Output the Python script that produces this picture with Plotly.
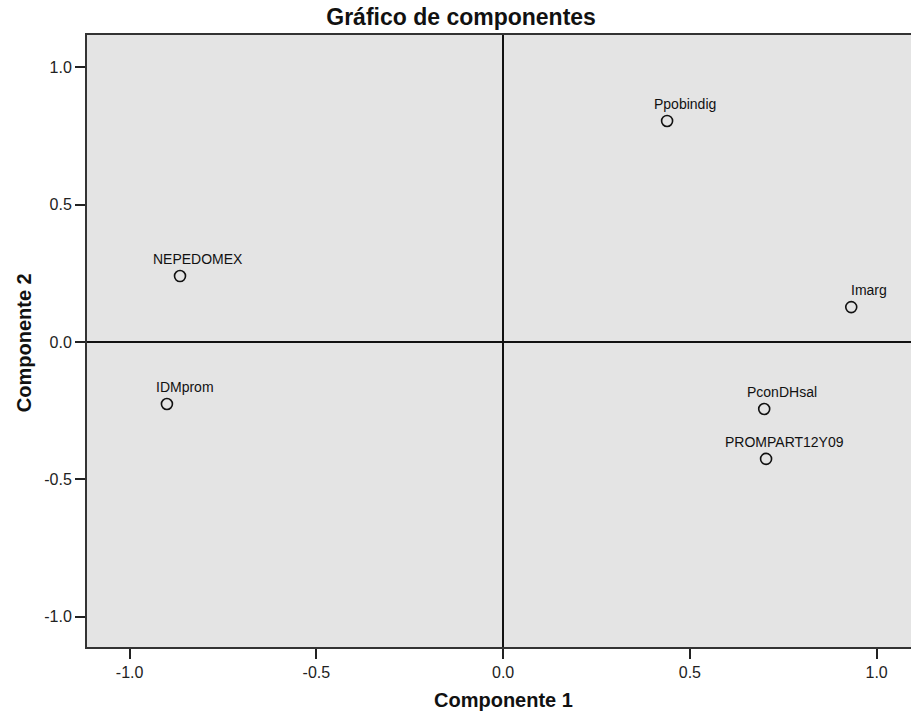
import plotly.graph_objects as go

# Component loadings (Componente 1, Componente 2)
variables = ["Ppobindig", "NEPEDOMEX", "Imarg", "IDMprom", "PconDHsal", "PROMPART12Y09"]
comp1 = [0.439, -0.865, 0.932, -0.900, 0.699, 0.704]
comp2 = [0.805, 0.240, 0.127, -0.226, -0.244, -0.426]

tick_vals = [-1.0, -0.5, 0.0, 0.5, 1.0]
tick_text = ["-1.0", "-0.5", "0.0", "0.5", "1.0"]

FONT = "Liberation Sans, Arial, sans-serif"

fig = go.Figure()
fig.add_trace(go.Scatter(
    x=comp1, y=comp2, mode="markers",
    marker=dict(symbol="circle-open", size=11, color="#111111", line=dict(width=1.6)),
    hoverinfo="text", text=variables, showlegend=False,
))

annotations = []
for name, cx, cy in zip(variables, comp1, comp2):
    annotations.append(dict(
        x=cx, y=cy, xref="x", yref="y", text=name, showarrow=False,
        xanchor="center", yanchor="middle", xshift=18, yshift=17,
        font=dict(family=FONT, size=14, color="#111111"),
    ))

# Axis titles, placed relative to the plotting area
annotations.append(dict(
    x=0.505, y=-0.087, xref="paper", yref="paper",
    xanchor="center", yanchor="middle", showarrow=False,
    text="<b>Componente 1</b>", font=dict(family=FONT, size=20, color="#111111"),
))
annotations.append(dict(
    x=-0.0765, y=0.498, xref="paper", yref="paper",
    xanchor="center", yanchor="middle", showarrow=False, textangle=-90,
    text="<b>Componente 2</b>", font=dict(family=FONT, size=20, color="#111111"),
))

fig.update_layout(
    width=911, height=719,
    margin=dict(l=87, r=0, t=35, b=72),
    paper_bgcolor="white",
    plot_bgcolor="#e4e4e4",
    title=dict(
        text="<b>Gráfico de componentes</b>",
        x=0.454, xanchor="center", xref="paper",
        y=1 - 17 / 719, yanchor="middle", yref="container",
        font=dict(family=FONT, size=23, color="#111111"),
    ),
    annotations=annotations,
    xaxis=dict(
        range=[-1.114, 1.092], tickvals=tick_vals, ticktext=tick_text,
        showgrid=False, zeroline=True, zerolinecolor="#111111", zerolinewidth=2,
        showline=True, linecolor="#333333", linewidth=2, mirror=True,
        ticks="outside", ticklen=10, tickwidth=2, tickcolor="#222222",
        tickfont=dict(family=FONT, size=16, color="#222222"),
    ),
    yaxis=dict(
        range=[-1.111, 1.118], tickvals=tick_vals, ticktext=tick_text,
        showgrid=False, zeroline=True, zerolinecolor="#111111", zerolinewidth=2,
        showline=True, linecolor="#333333", linewidth=2, mirror=False,
        ticks="outside", ticklen=10, tickwidth=2, tickcolor="#222222",
        tickfont=dict(family=FONT, size=16, color="#222222"),
    ),
)

fig.write_html("out.html")
